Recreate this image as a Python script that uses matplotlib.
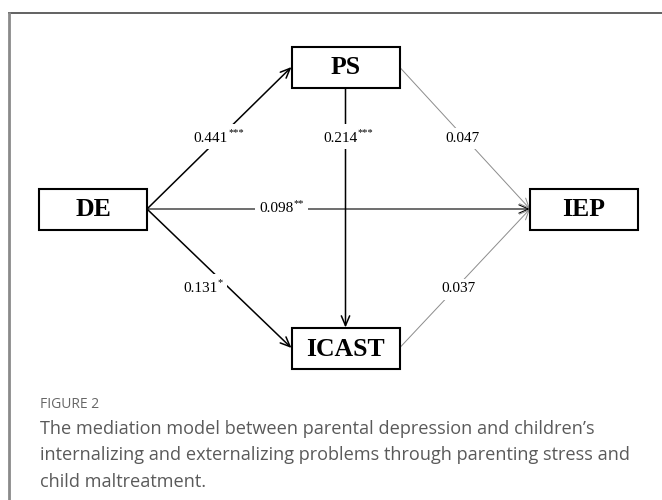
import matplotlib
matplotlib.use("Agg")
import matplotlib.pyplot as plt
from matplotlib.patches import Rectangle
from matplotlib.transforms import Bbox

# ---- data ----
nodes = ["DE", "PS", "ICAST", "IEP"]
edge_from = ["DE", "DE", "DE", "PS", "PS", "ICAST"]
edge_to = ["PS", "ICAST", "IEP", "ICAST", "IEP", "IEP"]
coef = ["0.441", "0.131", "0.098", "0.214", "0.047", "0.037"]
stars = ["***", "*", "**", "***", "", ""]
significant = [True, True, True, True, False, False]
fig_label = "FIGURE 2"
caption = ["The mediation model between parental depression and children\u2019s",
           "internalizing and externalizing problems through parenting stress and",
           "child maltreatment."]

# ---- layout (pixel coordinates) ----
W, H = 662, 500
centers = {"DE": (93, 209), "PS": (345.5, 67), "ICAST": (345.5, 348), "IEP": (584, 209)}
bw, bh = 108, 41
label_pos = [(211, 138), (200, 288), (276, 209), (340, 138), (462, 138), (458, 289)]

fig = plt.figure(figsize=(W / 100, H / 100), dpi=100)
ax = fig.add_axes([0, 0, 1, 1])
ax.set_xlim(0, W)
ax.set_ylim(H, 0)
ax.axis("off")

# frame
ax.plot([8, W], [12.5, 12.5], color="#555555", lw=1.3, solid_capstyle="butt")
ax.plot([8.5, 8.5], [12, H], color="#8a8a8a", lw=2.0, solid_capstyle="butt")

def anchor(name, side):
    cx, cy = centers[name]
    if side == "right":
        return (cx + bw / 2, cy)
    if side == "left":
        return (cx - bw / 2, cy)
    if side == "top":
        return (cx, cy - bh / 2)
    return (cx, cy + bh / 2)

label_groups = []
for i, (a, b) in enumerate(zip(edge_from, edge_to)):
    ca, cb = centers[a], centers[b]
    if abs(ca[0] - cb[0]) < 1:
        p0, p1 = anchor(a, "bottom"), anchor(b, "top")
    else:
        p0, p1 = anchor(a, "right"), anchor(b, "left")
    if significant[i]:
        col, lw = "black", (0.8 if a == "DE" and b == "IEP" else 1.1)
    else:
        col, lw = "#8c8c8c", 0.7
    ax.annotate("", xy=p1, xytext=p0,
                arrowprops=dict(arrowstyle="->,head_length=0.7,head_width=0.3",
                                color=col, lw=lw, shrinkA=0, shrinkB=0),
                zorder=2)
    t = ax.text(label_pos[i][0], label_pos[i][1], coef[i], ha="center", va="center",
                fontsize=11, family="Liberation Serif", color="black", zorder=3)
    group = [t]
    if stars[i]:
        s = ax.annotate(stars[i], xy=(1, 0.55), xycoords=t, xytext=(0.5, 0),
                        textcoords="offset points", ha="left", va="bottom",
                        fontsize=7.5, family="Liberation Serif", color="black",
                        zorder=3)
        group.append(s)
    label_groups.append(group)

# white backing behind each label, sized from the rendered text
fig.canvas.draw()
renderer = fig.canvas.get_renderer()
inv = ax.transData.inverted()
for group in label_groups:
    bb = Bbox.union([g.get_window_extent(renderer) for g in group]).expanded(1.0, 1.0)
    bb = bb.padded(4)
    (x0, y0), (x1, y1) = inv.transform([[bb.x0, bb.y0], [bb.x1, bb.y1]])
    ax.add_patch(Rectangle((min(x0, x1), min(y0, y1)), abs(x1 - x0), abs(y1 - y0),
                           fc="white", ec="none", zorder=2.5))

for n in nodes:
    cx, cy = centers[n]
    ax.add_patch(Rectangle((cx - bw / 2, cy - bh / 2), bw, bh, fc="white",
                           ec="black", lw=1.5, zorder=4))
    ax.text(cx, cy + 1, n, ha="center", va="center", fontsize=18.5,
            family="Liberation Serif", weight="bold", zorder=5)

ax.text(40, 405, fig_label, ha="left", va="center", fontsize=10,
        family="Open Sans", color="#666666")
for k, line in enumerate(caption):
    ax.text(40, 429 + k * 26.5, line, ha="left", va="center", fontsize=13.05,
            family="Open Sans", color="#5a5a5a")

fig.savefig("out.png", dpi=100)
